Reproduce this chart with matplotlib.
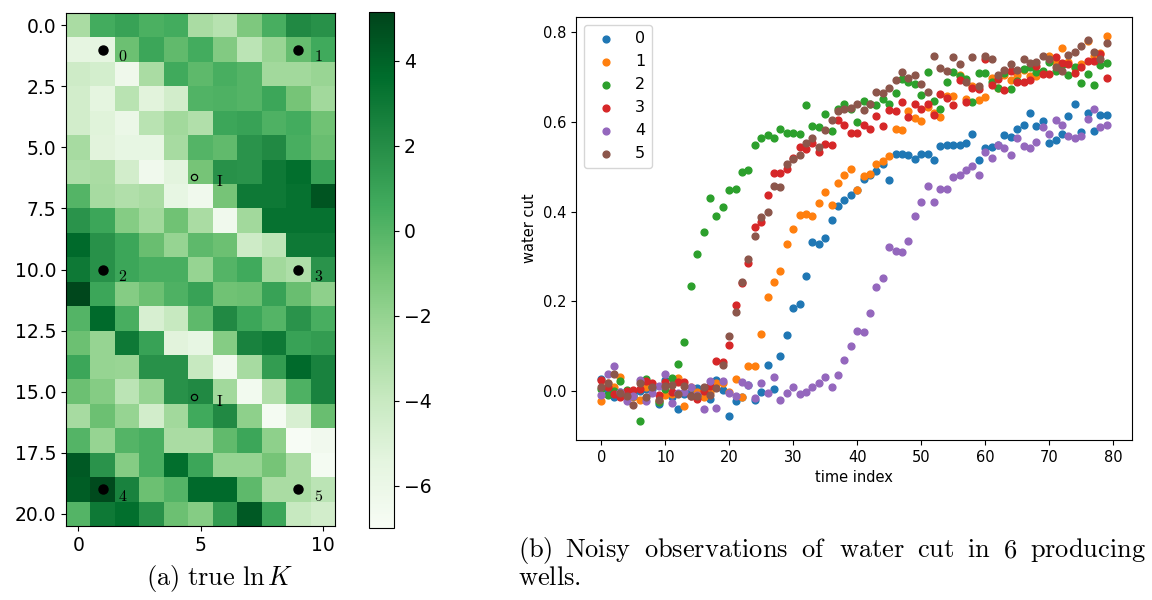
import numpy as np
import matplotlib
matplotlib.use("Agg")
import matplotlib.pyplot as plt

plt.rcParams['mathtext.fontset'] = 'cm'

# true ln K field (21 rows x 11 columns)
lnK = np.array([
    [-2.8, 0.5, 1.0, 0.3, 0.5, -2.8, -3.3, -1.3, 0.4, 2.2, 1.8],
    [-5.6, -5.6, -0.7, 0.8, -0.4, 0.5, -1.4, -3.5, -2.2, -0.5, 0.6],
    [-4.3, -4.6, -6.3, -2.8, 0.6, -0.3, 0.4, 0.0, -2.5, -2.5, -2.2],
    [-4.5, -5.5, -3.4, -5.3, -4.5, 0.1, 0.2, 0.0, 0.8, -1.0, -2.5],
    [-4.5, -5.2, -6.0, -3.4, -2.5, -3.1, 0.8, 1.0, 0.2, 0.5, -0.8],
    [-2.7, -5.3, -5.7, -5.7, -2.7, 0.0, -0.4, 1.7, 2.2, 0.4, -0.6],
    [-3.0, -2.8, -4.5, -6.4, -5.4, -1.0, 1.8, 1.7, 3.0, 3.5, 1.0],
    [0.0, -2.7, -3.1, -2.8, -5.7, -6.4, -1.0, 3.0, 3.0, 3.3, 4.5],
    [1.7, 0.8, -1.5, -2.5, -0.8, -2.8, -6.4, -2.5, 3.3, 3.3, 3.3],
    [3.7, 1.8, 0.8, -0.6, -2.1, -0.3, -0.7, -4.3, -3.6, 3.0, 3.0],
    [3.0, 1.8, 0.8, 0.4, 0.4, -2.1, 0.0, 0.6, -2.5, -3.0, 1.7],
    [5.0, 0.8, -1.5, -0.7, 0.2, 1.0, -0.8, -0.7, 1.0, -0.6, -1.8],
    [0.0, 3.7, 0.4, -4.8, -4.0, -0.3, 2.2, 0.8, 0.0, 1.7, 0.4],
    [-0.7, -2.1, 3.0, 1.0, -5.3, -5.7, -1.5, 2.5, 3.0, 1.0, 1.3],
    [0.8, -2.1, -2.2, 1.8, 1.8, -4.0, -6.4, -2.7, 1.3, 3.7, 2.5],
    [-0.7, -1.5, -3.5, -2.1, 1.8, 2.2, -2.5, -6.6, -3.1, 0.2, 2.5],
    [-2.7, -0.7, -2.1, -4.5, -2.5, 0.6, 2.2, -1.8, -6.8, -4.8, -0.6],
    [0.0, -2.1, 0.0, 0.4, -2.8, -2.8, -0.4, 0.8, -1.8, -7.0, -6.5],
    [4.3, 1.7, -1.5, 0.4, 3.5, 0.8, -2.1, -2.1, -1.0, -2.8, -6.8],
    [4.2, 4.9, 2.5, -0.7, 0.0, 3.7, 3.7, -0.3, -2.8, -2.8, -3.5],
    [0.0, 3.0, 3.5, 1.8, -0.7, -1.5, 1.3, 4.3, 0.8, -4.0, -4.5],
])
vmin, vmax = -7.0, 5.15

# producing wells and injectors
well_x = [1, 9, 1, 9, 1, 9]
well_y = [1, 1, 10, 10, 19, 19]
well_names = ['0', '1', '2', '3', '4', '5']
inj_x = [4.75, 4.75]
inj_y = [6.2, 15.2]

# water cut observations, one list per well
t = np.arange(80)
wc0 = [0.027, 0.0, -0.013, -0.003, 0.0, -0.007, 0.0, 0.004, 0.004, -0.029,
       0.025, -0.014, -0.04, -0.007, -0.003, 0.007, -0.008, -0.018, 0.025, 0.002,
       -0.056, -0.022, -0.014, 0.014, -0.02, -0.001, 0.058, 0.005, 0.078, 0.124,
       0.186, 0.193, 0.257, 0.333, 0.328, 0.34, 0.381, 0.413, 0.426, 0.437,
       0.448, 0.472, 0.482, 0.491, 0.505, 0.471, 0.528, 0.528, 0.527, 0.517,
       0.528, 0.528, 0.514, 0.547, 0.548, 0.549, 0.548, 0.552, 0.573, 0.514,
       0.541, 0.543, 0.548, 0.57, 0.567, 0.585, 0.593, 0.62, 0.59, 0.601,
       0.553, 0.559, 0.573, 0.612, 0.64, 0.578, 0.62, 0.58, 0.615, 0.615]
wc1 = [-0.022, 0.019, 0.01, 0.031, -0.007, -0.014, -0.02, 0.008, 0.016, -0.022,
       -0.008, -0.007, 0.029, -0.034, 0.008, -0.001, -0.014, -0.003, 0.019, 0.017,
       -0.003, 0.027, -0.013, 0.056, 0.056, 0.128, 0.21, 0.244, 0.268, 0.327,
       0.361, 0.393, 0.395, 0.389, 0.42, 0.444, 0.414, 0.463, 0.481, 0.495,
       0.447, 0.48, 0.484, 0.505, 0.513, 0.523, 0.583, 0.581, 0.624, 0.608,
       0.602, 0.634, 0.62, 0.611, 0.658, 0.658, 0.704, 0.65, 0.68, 0.649,
       0.656, 0.697, 0.676, 0.704, 0.694, 0.704, 0.716, 0.703, 0.703, 0.71,
       0.747, 0.734, 0.764, 0.734, 0.719, 0.729, 0.779, 0.747, 0.753, 0.792]
wc2 = [0.005, -0.008, 0.0, 0.023, 0.003, -0.01, -0.067, 0.028, 0.01, -0.025,
       0.005, 0.03, 0.06, 0.11, 0.235, 0.306, 0.354, 0.43, 0.39, 0.41,
       0.447, 0.45, 0.489, 0.493, 0.549, 0.563, 0.571, 0.563, 0.584, 0.575,
       0.575, 0.573, 0.637, 0.59, 0.589, 0.617, 0.58, 0.628, 0.639, 0.629,
       0.6, 0.646, 0.639, 0.637, 0.65, 0.639, 0.664, 0.695, 0.689, 0.684,
       0.66, 0.71, 0.646, 0.629, 0.689, 0.712, 0.701, 0.695, 0.644, 0.708,
       0.708, 0.689, 0.675, 0.708, 0.673, 0.691, 0.717, 0.721, 0.712, 0.714,
       0.734, 0.714, 0.726, 0.704, 0.721, 0.686, 0.706, 0.682, 0.726, 0.731]
wc3 = [0.025, 0.01, -0.007, -0.014, 0.0, 0.003, 0.005, 0.023, 0.017, -0.009,
       0.021, -0.003, 0.02, 0.02, -0.01, -0.018, 0.0, 0.012, 0.066, 0.064,
       0.103, 0.191, 0.24, 0.286, 0.366, 0.377, 0.438, 0.485, 0.485, 0.495,
       0.52, 0.544, 0.54, 0.552, 0.533, 0.55, 0.548, 0.605, 0.593, 0.575,
       0.574, 0.593, 0.584, 0.614, 0.59, 0.626, 0.624, 0.644, 0.611, 0.639,
       0.628, 0.639, 0.615, 0.661, 0.652, 0.637, 0.693, 0.644, 0.676, 0.673,
       0.741, 0.683, 0.695, 0.671, 0.714, 0.689, 0.689, 0.694, 0.725, 0.706,
       0.706, 0.744, 0.731, 0.729, 0.708, 0.721, 0.736, 0.736, 0.751, 0.698]
wc4 = [-0.008, 0.038, 0.056, -0.003, -0.022, -0.01, 0.025, -0.022, -0.005, 0.012,
       0.038, -0.027, -0.005, -0.003, 0.01, -0.008, -0.041, 0.023, -0.037, 0.023,
       -0.005, -0.01, 0.021, 0.014, -0.016, 0.019, -0.005, 0.031, -0.019, -0.005,
       0.008, -0.007, -0.001, 0.01, 0.017, 0.031, 0.008, 0.036, 0.069, 0.1,
       0.134, 0.131, 0.175, 0.231, 0.253, 0.321, 0.312, 0.311, 0.335, 0.391,
       0.422, 0.456, 0.422, 0.451, 0.451, 0.476, 0.481, 0.493, 0.501, 0.481,
       0.533, 0.519, 0.549, 0.541, 0.527, 0.564, 0.546, 0.541, 0.555, 0.589,
       0.572, 0.604, 0.592, 0.569, 0.564, 0.568, 0.607, 0.629, 0.589, 0.592]
wc5 = [0.008, 0.017, 0.037, -0.005, -0.011, -0.031, 0.017, -0.014, 0.008, -0.02,
       0.012, 0.014, -0.007, 0.012, -0.012, -0.012, 0.008, -0.008, 0.007, 0.059,
       0.122, 0.177, 0.243, 0.294, 0.345, 0.387, 0.399, 0.457, 0.454, 0.507,
       0.518, 0.525, 0.552, 0.563, 0.543, 0.581, 0.605, 0.623, 0.628, 0.63,
       0.639, 0.626, 0.639, 0.667, 0.664, 0.676, 0.694, 0.71, 0.697, 0.704,
       0.684, 0.667, 0.747, 0.719, 0.714, 0.744, 0.729, 0.688, 0.744, 0.68,
       0.747, 0.741, 0.704, 0.716, 0.729, 0.716, 0.741, 0.732, 0.734, 0.746,
       0.74, 0.723, 0.714, 0.749, 0.755, 0.768, 0.783, 0.755, 0.74, 0.776]
water_cut = [wc0, wc1, wc2, wc3, wc4, wc5]

caption_b = ['(b)', 'Noisy', 'observations', 'of', 'water', 'cut', 'in', '6', 'producing']

W, H = 1152, 600
fig = plt.figure(figsize=(W/100, H/100), dpi=100)

def box(x0, y0, x1, y1):
    # pixel box (top-left origin) -> figure fraction
    return [x0/W, 1 - y1/H, (x1 - x0)/W, (y1 - y0)/H]

# (a) permeability field
ax1 = fig.add_axes(box(66, 13, 335, 526))
im = ax1.imshow(lnK, cmap='Greens', vmin=vmin, vmax=vmax,
                interpolation='nearest', aspect='auto')
ax1.plot(well_x, well_y, 'o', color='black', markersize=6.5)
for x, y, name in zip(well_x, well_y, well_names):
    ax1.text(x + 0.82, y + 0.3, r'$\mathrm{%s}$' % name, fontsize=11.5,
             va='center', ha='center')
ax1.plot(inj_x, inj_y, 'o', mfc='none', mec='black', markersize=4.5, mew=0.9)
for x, y in zip(inj_x, inj_y):
    ax1.text(x + 1.05, y + 0.2, r'$\mathrm{I}$', fontsize=11.5,
             va='center', ha='center')
ax1.set_xticks([0, 5, 10])
ax1.set_yticks(np.arange(0, 20.1, 2.5))
ax1.tick_params(labelsize=13.5)

cax = fig.add_axes(box(369, 12, 394, 528))
cb = fig.colorbar(im, cax=cax)
cb.set_ticks([-6, -4, -2, 0, 2, 4])
cb.ax.tick_params(labelsize=13.5)

# (b) water cut
ax2 = fig.add_axes(box(576, 17, 1132, 440))
for i, wc in enumerate(water_cut):
    ax2.scatter(t, wc, s=24, label=str(i))
ax2.set_xlim(-3.95, 82.95)
ax2.set_ylim(-0.109, 0.8335)
ax2.set_xlabel('time index', fontsize=10.5)
ax2.set_ylabel('water cut', fontsize=10.5)
ax2.tick_params(labelsize=10.5)
ax2.legend(loc='upper left', fontsize=11.5)

# sub-captions
fig.text(220/W, 1 - 578/H, r'$\mathrm{(a)\ true\ }\ln K$', fontsize=19,
         ha='center', va='center')

# caption (b) is justified between two edges, like the LaTeX line
renderer = fig.canvas.get_renderer()
words = [fig.text(0, 1 - 550/H, r'$\mathrm{%s}$' % w, fontsize=19,
                  ha='left', va='center') for w in caption_b]
widths = [w.get_window_extent(renderer).width for w in words]
x_left, x_right = 518, 1146
gap = (x_right - x_left - sum(widths)) / (len(words) - 1)
x = x_left
for w, wd in zip(words, widths):
    w.set_x(x / W)
    x += wd + gap
fig.text(x_left/W, 1 - 578/H, r'$\mathrm{wells.}$', fontsize=19,
         ha='left', va='center')

fig.savefig('out.png', dpi=100)
